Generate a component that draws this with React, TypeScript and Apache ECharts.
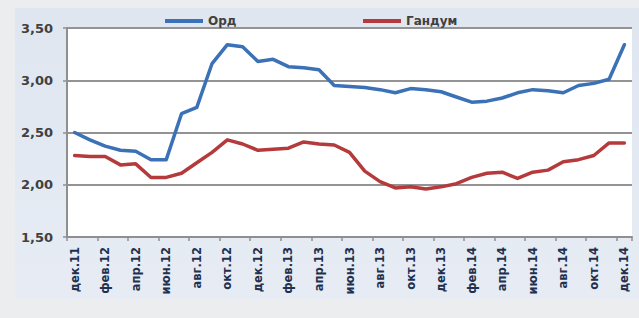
import React, { useEffect, useRef } from "react";
import * as echarts from "echarts";

const months = [
  "дек.11", "янв.12", "фев.12", "мар.12", "апр.12", "май.12", "июн.12", "июл.12", "авг.12", "сен.12", "окт.12", "ноя.12",
  "дек.12", "янв.13", "фев.13", "мар.13", "апр.13", "май.13", "июн.13", "июл.13", "авг.13", "сен.13", "окт.13", "ноя.13",
  "дек.13", "янв.14", "фев.14", "мар.14", "апр.14", "май.14", "июн.14", "июл.14", "авг.14", "сен.14", "окт.14", "ноя.14",
  "дек.14",
];

const ordValues = [
  2.50, 2.43, 2.37, 2.33, 2.32, 2.24, 2.24, 2.68, 2.74, 3.16, 3.34, 3.32,
  3.18, 3.20, 3.13, 3.12, 3.10, 2.95, 2.94, 2.93, 2.91, 2.88, 2.92, 2.91,
  2.89, 2.84, 2.79, 2.80, 2.83, 2.88, 2.91, 2.90, 2.88, 2.95, 2.97, 3.01,
  3.34,
];

const gandumValues = [
  2.28, 2.27, 2.27, 2.19, 2.20, 2.07, 2.07, 2.11, 2.21, 2.31, 2.43, 2.39,
  2.33, 2.34, 2.35, 2.41, 2.39, 2.38, 2.31, 2.13, 2.03, 1.97, 1.98, 1.96,
  1.98, 2.01, 2.07, 2.11, 2.12, 2.06, 2.12, 2.14, 2.22, 2.24, 2.28, 2.40,
  2.40,
];

const seriesNames = ["Орд", "Гандум"];
const yTicks = { min: 1.5, max: 3.5, interval: 0.5 };

export default function App() {
  const ref = useRef<HTMLDivElement>(null);
  useEffect(() => {
    if (!ref.current) return;
    const chart = echarts.init(ref.current, undefined, { renderer: "svg" });
    const font = "DejaVu Sans";
    chart.setOption({
      animation: false,
      backgroundColor: "#ecedee",
      graphic: [
        {
          type: "rect",
          shape: { x: 15, y: 8, width: 630, height: 291 },
          style: {
            fill: new echarts.graphic.LinearGradient(0, 0, 0, 1, [
              { offset: 0, color: "#dfe6f0" },
              { offset: 1, color: "#e7ecf4" },
            ]),
          },
          z: -10,
        },
        {
          type: "rect",
          shape: { x: 67, y: 28, width: 565, height: 209 },
          style: { fill: "#ffffff" },
          z: -5,
        },
      ],
      legend: [
        {
          data: [seriesNames[0]],
          left: 160,
          top: 10,
          icon: "rect",
          itemWidth: 38,
          itemHeight: 4,
          textStyle: { fontFamily: font, fontWeight: "bold", fontSize: 12, color: "#404040" },
        },
        {
          data: [seriesNames[1]],
          left: 358,
          top: 10,
          icon: "rect",
          itemWidth: 38,
          itemHeight: 4,
          textStyle: { fontFamily: font, fontWeight: "bold", fontSize: 12, color: "#404040" },
        },
      ],
      grid: { left: 67, right: 7, top: 28, bottom: 81, containLabel: false },
      xAxis: {
        type: "category",
        data: months,
        boundaryGap: true,
        axisLine: { show: true, lineStyle: { color: "#8f8f8f", width: 2 } },
        axisTick: { show: true, interval: 1, length: 4, lineStyle: { color: "#8f8f8f", width: 1.5 } },
        axisLabel: {
          interval: 1,
          rotate: 90,
          margin: 10,
          fontFamily: font,
          fontWeight: "bold",
          fontSize: 11.5,
          color: "#22304f",
        },
      },
      yAxis: {
        type: "value",
        min: yTicks.min,
        max: yTicks.max,
        interval: yTicks.interval,
        axisLine: { show: true, lineStyle: { color: "#8f8f8f", width: 2 } },
        axisTick: { show: true, length: 4, lineStyle: { color: "#8f8f8f", width: 1.5 } },
        splitLine: { show: true, lineStyle: { color: "#939393", width: 2 } },
        axisLabel: {
          margin: 14,
          fontFamily: font,
          fontWeight: "bold",
          fontSize: 13,
          color: "#404040",
          formatter: (v: number) => v.toFixed(2).replace(".", ","),
        },
      },
      series: [
        {
          name: seriesNames[0],
          type: "line",
          data: ordValues,
          showSymbol: false,
          symbol: "none",
          itemStyle: { color: "#3b71b6" },
          lineStyle: { color: "#3b71b6", width: 3.5, join: "round", cap: "round" },
          z: 3,
        },
        {
          name: seriesNames[1],
          type: "line",
          data: gandumValues,
          showSymbol: false,
          symbol: "none",
          itemStyle: { color: "#b53a3b" },
          lineStyle: { color: "#b53a3b", width: 3.5, join: "round", cap: "round" },
          z: 2,
        },
      ],
    });
    return () => chart.dispose();
  }, []);
  return (
    <div
      ref={ref}
      style={{ position: "absolute", left: 0, top: 0, width: 639, height: 318 }}
    />
  );
}
